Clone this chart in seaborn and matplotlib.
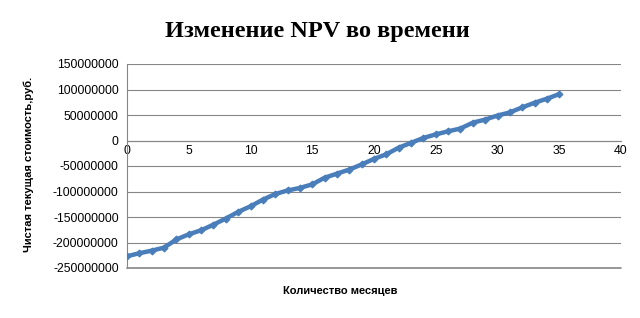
import matplotlib
matplotlib.use("Agg")
import matplotlib.pyplot as plt
import seaborn as sns
import pandas as pd
from matplotlib.ticker import FuncFormatter, MultipleLocator

months = list(range(0, 36))
npv = [-227e6, -221e6, -216e6, -210e6, -194e6, -184e6, -176e6, -165e6, -153e6, -140e6,
       -129e6, -116e6, -105e6, -98e6, -93e6, -86e6, -73e6, -65e6, -57e6, -47e6,
       -36e6, -27e6, -14e6, -4.6e6, 5e6, 12e6, 18e6, 23.5e6, 35e6, 41e6,
       49e6, 55e6, 65e6, 74e6, 82e6, 91e6]

title = "Изменение NPV во времени"
xlabel = "Количество месяцев"
ylabel = "Чистая текущая стоимость,руб."

df = pd.DataFrame({"month": months, "npv": npv})

sns.set_theme(style="white")
plt.rcParams["font.family"] = ["Liberation Sans", "DejaVu Sans"]

fig = plt.figure(figsize=(6.4, 3.18), dpi=100)
ax = fig.add_axes([127/640, 1-268/318, (621-127)/640, (268-64)/318])

sns.lineplot(data=df, x="month", y="npv", ax=ax, color="#4A7EBB", linewidth=3.2,
             marker="D", markersize=3.5, markeredgewidth=0.8, markeredgecolor="#4A7EBB",
             zorder=3)

ax.set_xlim(0, 40)
ax.set_ylim(-250e6, 150e6)
ax.xaxis.set_major_locator(MultipleLocator(5))
ax.yaxis.set_major_locator(MultipleLocator(50e6))
ax.yaxis.set_major_formatter(FuncFormatter(lambda v, p: str(int(round(v)))))
ax.xaxis.set_major_formatter(FuncFormatter(lambda v, p: str(int(round(v)))))

ax.grid(axis="y", color="#868686", linewidth=0.8)
ax.grid(axis="x", visible=False)
ax.axhline(-250e6, color="#868686", linewidth=1.2, clip_on=False, zorder=1)
ax.set_axisbelow(True)

for s in ["top", "right"]:
    ax.spines[s].set_visible(False)
ax.spines["bottom"].set_position(("data", 0))
ax.spines["bottom"].set_color("#868686")
ax.spines["left"].set_color("#868686")
ax.spines["bottom"].set_linewidth(0.8)
ax.spines["left"].set_linewidth(0.8)

ax.tick_params(axis="both", which="major", labelsize=8.8, length=4,
               width=0.8, direction="out", pad=2)
ax.tick_params(axis="x", colors="#868686", labelcolor="black", direction="in", length=4, pad=3)
ax.tick_params(axis="y", colors="#868686", labelcolor="black")

ax.set_xlabel("")
ax.set_ylabel("")
fig.text(340/640, 1-291/318, xlabel, ha="center", va="center", fontsize=8, fontweight="bold",
         color="black")
fig.text(29/640, 1-164/318, ylabel, ha="center", va="center", rotation=90, fontsize=8,
         fontweight="bold", color="black")
fig.text(317/640, 1-32/318, title, ha="center", va="center", fontsize=17.5, fontweight="bold",
         family=["Liberation Serif", "DejaVu Serif"], color="black")

fig.savefig("out.png", dpi=100)
